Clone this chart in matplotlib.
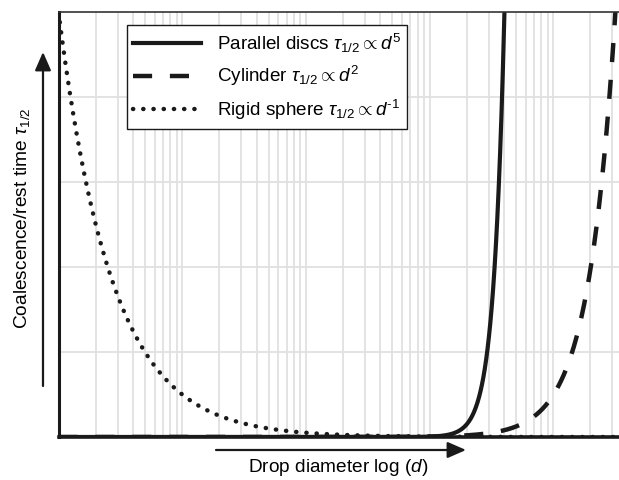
import numpy as np
import matplotlib
matplotlib.use("Agg")
import matplotlib.pyplot as plt

plt.rcParams['font.family'] = ['Liberation Sans', 'DejaVu Sans']
plt.rcParams['mathtext.fontset'] = 'custom'
plt.rcParams['mathtext.rm'] = 'Liberation Sans'
plt.rcParams['mathtext.it'] = 'Liberation Sans:italic'

# curve data (d where each curve hits the top, exponent)
labels = [r'Parallel discs $\tau_{1/2} \propto d^5$',
          r'Cylinder $\tau_{1/2} \propto d^2$',
          r'Rigid sphere $\tau_{1/2} \propto d^{\text{-}1}$']
exponents = [5, 2, -1]
d_top = [4030, 31800, 1.0]
y_max = 5

d = np.logspace(0, np.log10(3.4e4), 2000)

fig = plt.figure(figsize=(6.19, 4.8), dpi=100)
ax = fig.add_axes([58.5 / 619, 43 / 480, 1 - 58.5 / 619, 425 / 480])

styles = [dict(ls='-', lw=3.0),
          dict(ls=(0, (4.3, 4.0)), lw=3.2),
          dict(ls=(0, (0.05, 2.25)), lw=3.2, dash_capstyle='round')]

for lab, p, dt, st in zip(labels, exponents, d_top, styles):
    ax.plot(d, y_max * (d / dt) ** p, color='#1a1a1a', label=lab, **st)

ax.set_xscale('log')
ax.set_xlim(1, 3.4e4)
ax.set_ylim(0, y_max)
ax.set_yticks(range(1, 5))
ax.grid(True, which='both', axis='x', color='#e0e0e0', lw=1.3)
ax.grid(True, which='major', axis='y', color='#e0e0e0', lw=1.3)
ax.set_axisbelow(True)
ax.tick_params(which='both', length=0, labelbottom=False, labelleft=False)

ax.spines['right'].set_visible(False)
ax.spines['top'].set_linewidth(1.2)
ax.spines['top'].set_color('#333333')
ax.spines['left'].set_linewidth(2.2)
ax.spines['bottom'].set_linewidth(2.6)
for s in ['left', 'bottom']:
    ax.spines[s].set_color('#1a1a1a')

leg = ax.legend(loc='upper left', bbox_to_anchor=(0.122, 0.969), borderaxespad=0,
                fontsize=13.6, handlelength=3.6, handletextpad=0.8,
                borderpad=0.35, labelspacing=0.5, fancybox=False,
                framealpha=1, edgecolor='#1a1a1a')
leg.get_frame().set_linewidth(1.0)

# axis arrows and labels
arrow = dict(arrowstyle='-|>,head_length=0.8,head_width=0.35', color='#1a1a1a', lw=1.6,
             shrinkA=0, shrinkB=0, mutation_scale=14)
ax.annotate('', xy=(43, 428), xytext=(43, 94), xycoords='figure pixels',
            textcoords='figure pixels', arrowprops=arrow)
ax.annotate('', xy=(466, 30), xytext=(216, 30), xycoords='figure pixels',
            textcoords='figure pixels', arrowprops=arrow)

fig.text(22 / 619, 262 / 480, r'Coalescence/rest time $\tau_{1/2}$', rotation=90,
         ha='center', va='center', fontsize=13.8)
fig.text(338 / 619, 12 / 480, r'Drop diameter log ($d$)', ha='center', va='center',
         fontsize=13.7)

fig.savefig('out.png', dpi=100)
